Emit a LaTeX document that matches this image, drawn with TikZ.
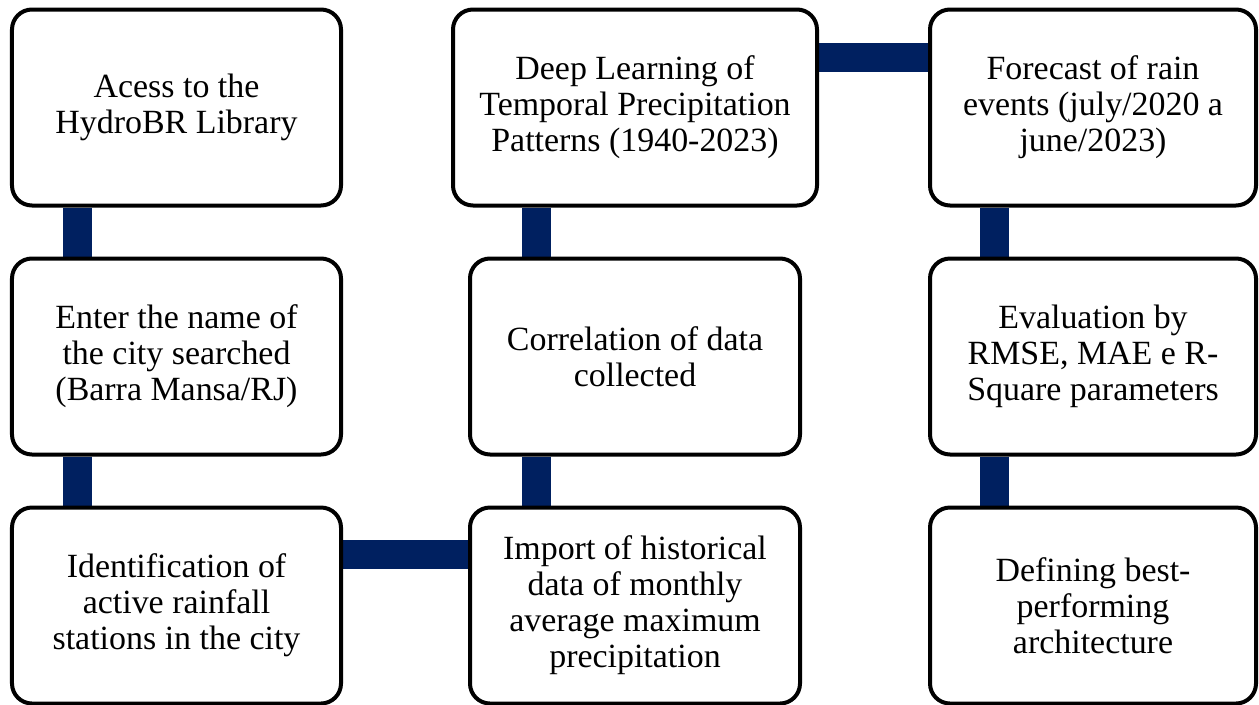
\documentclass[tikz,border=0pt]{standalone}
\usepackage{fontspec}
\setmainfont{Liberation Serif}
\usetikzlibrary{positioning,backgrounds}
\definecolor{navy}{RGB}{0,32,96}
\begin{document}
\begin{tikzpicture}[node distance=9.8mm,
        box/.style={draw, line width=0.8mm, rounded corners=4mm, fill=white, minimum width=65.8mm, minimum height=39.2mm, align=center, font=\fontsize{19.3}{20.5}\selectfont},
        bar/.style={navy, line width=5.8mm}]
      \useasboundingbox (-35.3mm,21.5mm) rectangle (216.5mm,-119.3mm);
      \node[box] (access) {Acess to the\\HydroBR Library};
      \node[box, below=of access] (city) {Enter the name of\\the city searched\\(Barra Mansa/RJ)};
      \node[box, below=of city] (stations) {Identification of\\active rainfall\\stations in the city};
      \node[box, right=25mm of stations, minimum width=66mm] (import) {Import of historical\\data of monthly\\average maximum\\precipitation};
      \node[box, above=of import, minimum width=66mm] (corr) {Correlation of data\\collected};
      \node[box, above=of corr, minimum width=72.8mm] (deep) {Deep Learning of\\Temporal Precipitation\\Patterns (1940-2023)};
      \node[box, right=21.8mm of deep, minimum width=65.2mm] (forecast) {Forecast of rain\\events (july/2020 a\\june/2023)};
      \node[box, below=of forecast, minimum width=65.2mm] (eval) {Evaluation by\\RMSE, MAE e R-\\Square parameters};
      \node[box, below=of eval, minimum width=65.2mm] (best) {Defining best-\\performing\\architecture};
      \begin{scope}[on background layer]
        \draw[bar] ([xshift=-19.7mm]access.south) -- ([xshift=-19.7mm]city.north);
        \draw[bar] ([xshift=-19.7mm]city.south) -- ([xshift=-19.7mm]stations.north);
        \draw[bar] ([yshift=10.2mm]stations.east) -- ([yshift=10.2mm]import.west);
        \draw[bar] ([xshift=-19.7mm]import.north) -- ([xshift=-19.7mm]corr.south);
        \draw[bar] ([xshift=-19.7mm]corr.north) -- ([xshift=-19.7mm]deep.south);
        \draw[bar] ([yshift=10.1mm]deep.east) -- ([yshift=10.1mm]forecast.west);
        \draw[bar] ([xshift=-19.7mm]forecast.south) -- ([xshift=-19.7mm]eval.north);
        \draw[bar] ([xshift=-19.7mm]eval.south) -- ([xshift=-19.7mm]best.north);
      \end{scope}
    \end{tikzpicture}
\end{document}
